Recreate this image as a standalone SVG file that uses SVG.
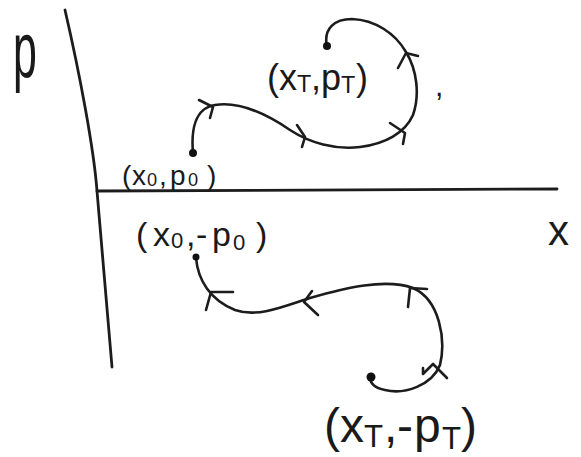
<svg xmlns="http://www.w3.org/2000/svg" width="581" height="457" viewBox="0 0 581 457">
<style>
.ln{fill:none;stroke:#1c1c1c;stroke-width:2.6;stroke-linecap:round;stroke-linejoin:round}
.ax{fill:none;stroke:#1c1c1c;stroke-width:2.8;stroke-linecap:round}
.dot{fill:#111}
text{font-family:"Liberation Sans","DejaVu Sans",sans-serif;fill:#1a1a1a}
.sub{font-size:0.65em}
</style>
<rect width="581" height="457" fill="#ffffff"/>
<g id="axes">
<path class="ax" d="M65,10 C80,75 94,150 97,191 L112,367"/>
<path class="ax" d="M97,191 L557,189"/>
<text id="p-label" transform="translate(13,77) scale(0.55,1)" font-size="78">p</text>
<text id="x-label" x="548" y="245" font-size="42">x</text>
</g>
<g id="connectors">
<g id="upper-trajectory">
<path class="ln" d="M193,153 C191,130 195,108 215,105 C240,101 268,115 290,130 C310,143 335,150 360,147 C385,144 405,133 413,115 C420,95 417,70 406,52 C395,33 375,20 352,19 C335,19 323,28 327,47"/>
<path class="ln" d="M199,100 L213,107 L210,118"/>
<path class="ln" d="M297,125 L305,137 L302,147"/>
<path class="ln" d="M390,123 L405,133 L403,144"/>
<path class="ln" d="M398,68 L406,53 L418,56"/>
</g>
<g id="lower-trajectory">
<path class="ln" d="M196,258 C198,280 210,300 235,310 C258,318 285,306 310,298 C345,288 385,278 413,288 C440,300 446,340 440,365 C432,385 405,395 385,390 C375,388 370,383 370,377"/>
<path class="ln" d="M233,292 L211,292 L206,310"/>
<path class="ln" d="M312,291 L304,302 L318,315"/>
<path class="ln" d="M408,307 L410,288 L427,289"/>
<path class="ln" d="M423,368 L423,374 L433,364 L447,378"/>
</g>
</g>
<g id="node-x0p0">
<circle class="dot" cx="193" cy="153" r="4"/>
<text font-size="28" y="185"><tspan x="122">(</tspan><tspan x="132">x</tspan><tspan x="147" y="186" class="sub">0</tspan><tspan x="159" y="185">,</tspan><tspan x="170">p</tspan><tspan x="188" y="186" class="sub">0</tspan><tspan x="207" y="185">)</tspan></text>
</g>
<g id="node-xTpT">
<circle class="dot" cx="327" cy="46" r="4"/>
<text font-size="36" y="90"><tspan x="267">(</tspan><tspan x="279">x</tspan><tspan x="297" y="92" class="sub">T</tspan><tspan x="311" y="90">,</tspan><tspan x="321">p</tspan><tspan x="341" y="93" class="sub">T</tspan><tspan x="356" y="90">)</tspan></text>
<text x="435" y="96" font-size="30">,</text>
</g>
<g id="node-x0-p0">
<circle class="dot" cx="196" cy="257" r="3.5"/>
<text font-size="34" y="246"><tspan x="136">(</tspan><tspan x="153">x</tspan><tspan x="171" y="248" class="sub">0</tspan><tspan x="186" y="246">,</tspan><tspan x="196">-</tspan><tspan x="212">p</tspan><tspan x="233" y="250" class="sub">0</tspan><tspan x="256" y="246">)</tspan></text>
</g>
<g id="node-xT-pT">
<circle class="dot" cx="371" cy="377" r="4.5"/>
<text font-size="48" y="442"><tspan x="324">(</tspan><tspan x="340">x</tspan><tspan x="364" y="447" class="sub">T</tspan><tspan x="384" y="442">,</tspan><tspan x="397">-</tspan><tspan x="414">p</tspan><tspan x="442" y="449" class="sub">T</tspan><tspan x="461" y="442">)</tspan></text>
</g>
</svg>
